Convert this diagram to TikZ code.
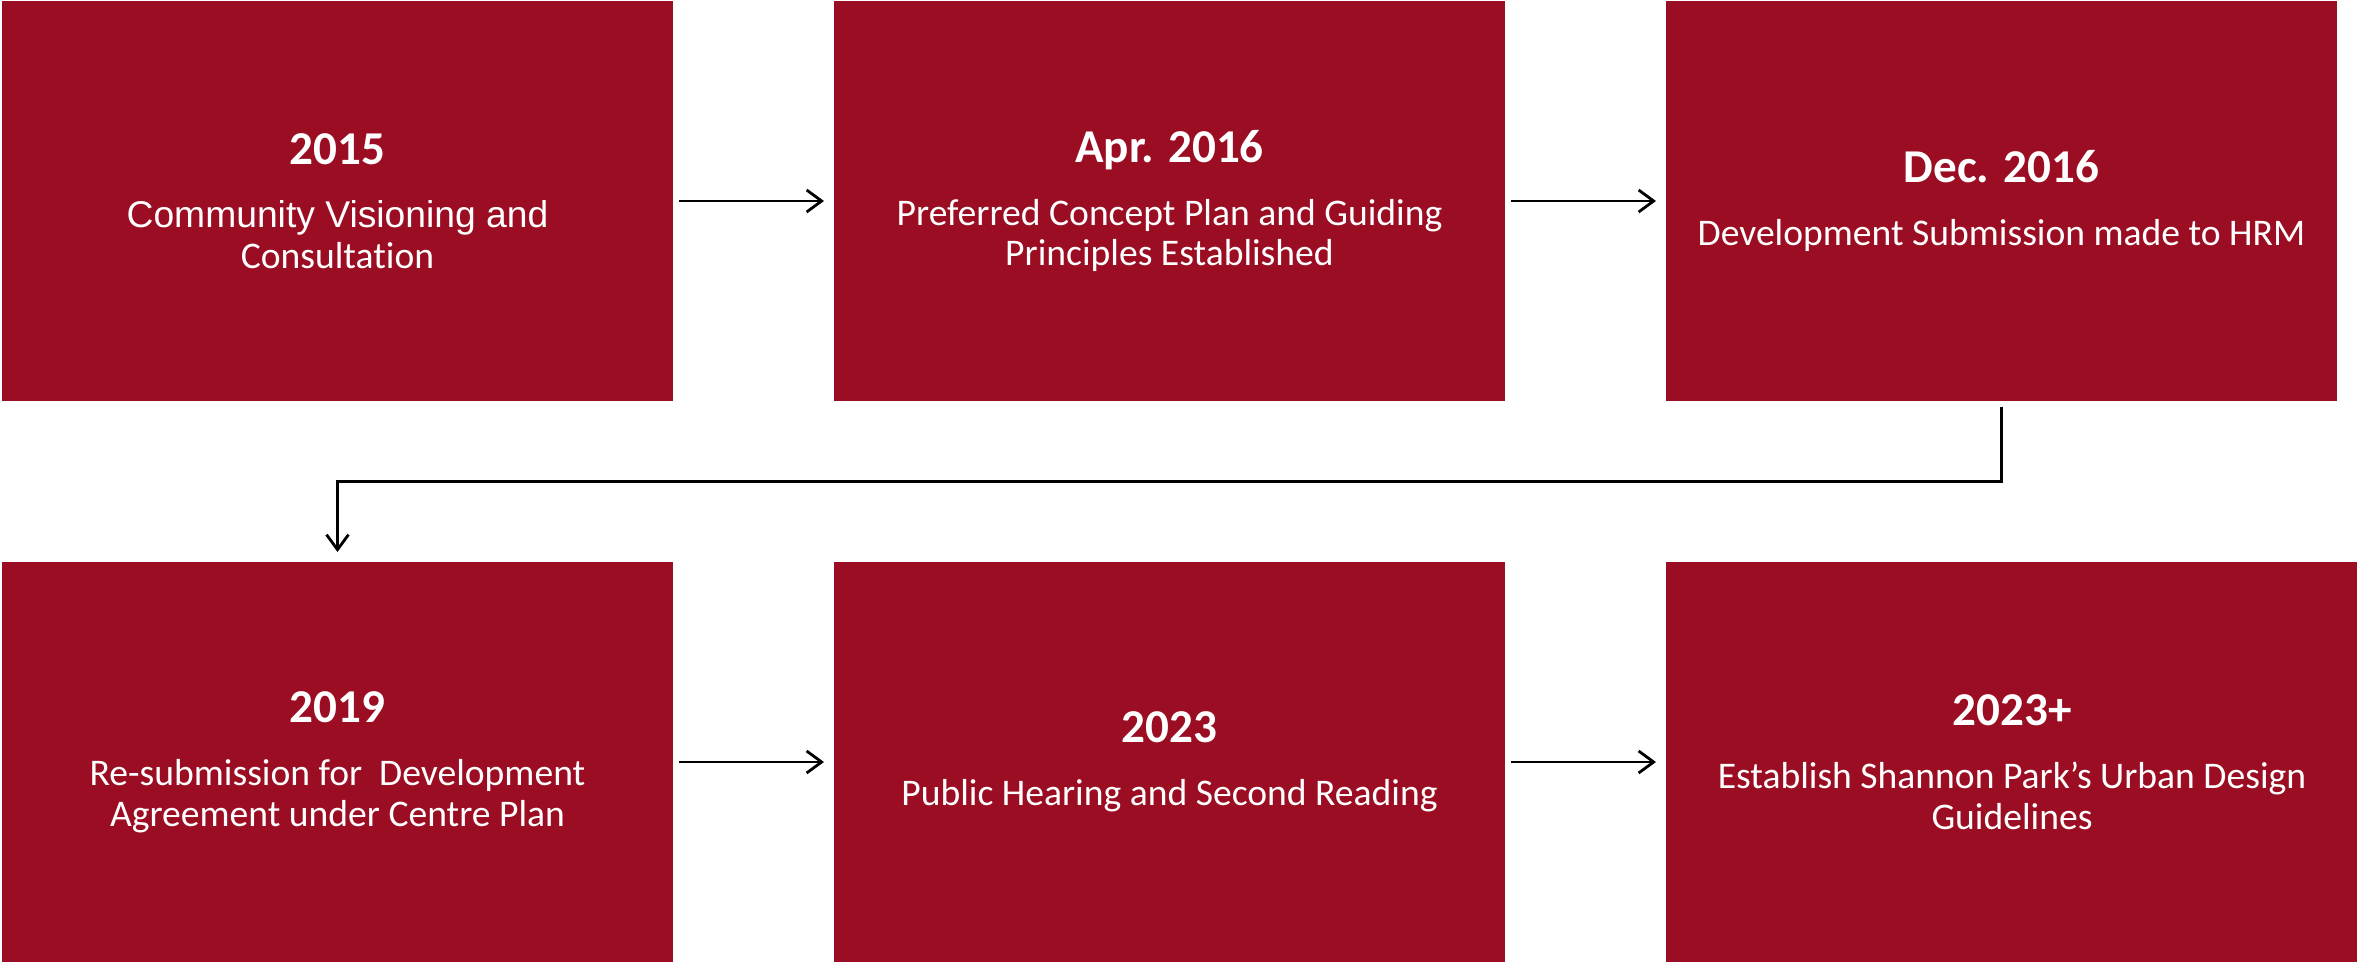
\documentclass[tikz,border=0pt]{standalone}
\usepackage{fontspec}
\setmainfont[Ligatures=NoCommon]{Carlito}
\newfontfamily\arialfont[Ligatures=NoCommon]{Liberation Sans}
\usetikzlibrary{arrows.meta,positioning}
\definecolor{deepred}{RGB}{155,13,34}
\newcommand\stageyear[1]{{\fontsize{13.4}{16}\selectfont\bfseries #1}\\[6.5pt]}

\begin{document}
\begin{tikzpicture}[
    stage/.style={fill=deepred,text=white,minimum width=6.71cm,minimum height=4cm,
      inner sep=0pt,outer sep=0pt,align=center,font=\fontsize{10.7}{11.5}\selectfont},
    link/.style={-{Straight Barb[length=1.5mm,width=2.2mm]},line width=0.8pt,
      shorten <=0.6mm,shorten >=1mm},
    node distance=1.61cm]
  \useasboundingbox (0,0) rectangle (23.57,-9.64);
  % top row
  \node[stage,anchor=north west] (s2015) at (0.02,-0.01)
    {\stageyear{2015}\arialfont\fontsize{10.6}{11}\selectfont Community Visioning and\\Consultation};
  \node[stage,right=of s2015] (s2016a)
    {\stageyear{Apr. 2016}Preferred Concept Plan and Guiding\\Principles Established};
  \node[stage,right=of s2016a] (s2016b)
    {\stageyear{Dec. 2016}Development Submission made to HRM};
  % bottom row
  \node[stage,below=of s2015] (s2019)
    {\stageyear{2019}Re-submission for\ \ Development\\Agreement under Centre Plan};
  \node[stage,right=of s2019] (s2023)
    {\stageyear{2023}Public Hearing and Second Reading};
  \node[stage,right=of s2023,minimum width=6.92cm] (s2023p)
    {\stageyear{2023+}Establish Shannon Park’s Urban Design\\Guidelines};
  % arrows
  \draw[link] (s2015) -- (s2016a);
  \draw[link] (s2016a) -- (s2016b);
  \draw[link] (s2016b.south) -- ++(0,-0.805) -| (s2019.north);
  \draw[link] (s2019) -- (s2023);
  \draw[link] (s2023) -- (s2023p);
\end{tikzpicture}
\end{document}
